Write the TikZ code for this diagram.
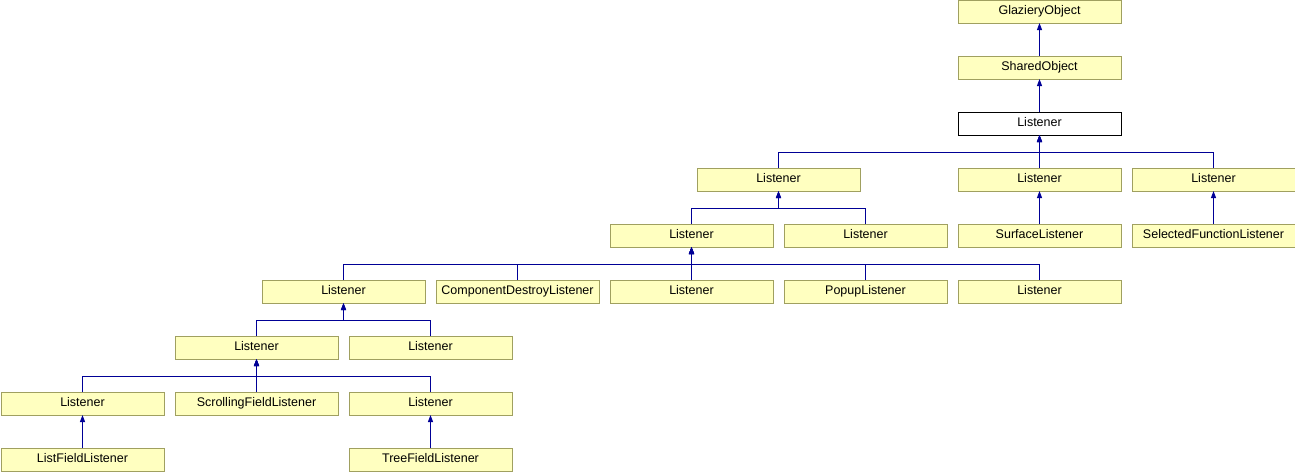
\documentclass[tikz,border=0pt]{standalone}
\usepackage{fontspec}
\setmainfont{Liberation Sans}
\usepackage{xcolor}
\usepackage{tikz}
\usetikzlibrary{arrows.meta, positioning}
\definecolor{boxfill}{RGB}{255,255,192}
\definecolor{boxline}{RGB}{160,160,96}
\definecolor{edgeblue}{RGB}{0,0,150}

\begin{document}
\begin{tikzpicture}[
    x=1pt, y=-1pt,
    node distance=33pt and 11pt,
    box/.style={rectangle, draw=boxline, fill=boxfill, line width=1pt, minimum width=163pt, minimum height=23pt, inner sep=0pt, outer sep=0pt, text height=9pt, text depth=2.5pt, align=center, font=\fontsize{12.5}{14}\selectfont},
    rootbox/.style={box, draw=black, fill=white},
    arrow/.style={-{Triangle[width=5pt,length=7pt]}, edgeblue, line width=1pt}
]
\useasboundingbox (0,0) rectangle (1295,472);

% Base classes
\node[box] (glaziery) at (1039.5,11.5) {GlazieryObject};
\node[box, below=of glaziery] (shared) {SharedObject};
\node[rootbox, below=of shared] (listener) {Listener};

% Row 3
\node[box, below=of listener] (lsurf) {Listener};
\node[box, right=of lsurf] (lsel) {Listener};
\node[box, left=98pt of lsurf] (lcomp) {Listener};

% Row 4
\node[box, below=of lsurf] (surface) {SurfaceListener};
\node[box, below=of lsel] (selected) {SelectedFunctionListener};
\node[box, left=of surface] (lother) {Listener};
\node[box, left=of lother] (lwidget) {Listener};

% Row 5
\node[box, below=of surface] (lmisc) {Listener};
\node[box, left=of lmisc] (popup) {PopupListener};
\node[box, left=of popup] (lcontrol) {Listener};
\node[box, left=of lcontrol] (destroy) {ComponentDestroyListener};
\node[box, left=of destroy] (lfield) {Listener};

% Row 6
\node[box, below=of lfield, xshift=87pt] (lbutton) {Listener};
\node[box, left=of lbutton] (lscroll) {Listener};

% Row 7
\node[box, below=of lscroll] (scrolling) {ScrollingFieldListener};
\node[box, below=of lbutton] (ltree) {Listener};
\node[box, left=of scrolling] (llist) {Listener};

% Row 8
\node[box, below=of llist] (listfield) {ListFieldListener};
\node[box, below=of ltree] (treefield) {TreeFieldListener};

% Inheritance
\draw[arrow] (shared) -- (glaziery);
\draw[arrow] (listener) -- (shared);
\draw[arrow] (lcomp.north) -- ++(0,-16) -| (listener.south);
\draw[arrow] (lsurf.north) -- ++(0,-16) -| (listener.south);
\draw[arrow] (lsel.north) -- ++(0,-16) -| (listener.south);

\draw[arrow] (lwidget.north) -- ++(0,-16) -| (lcomp.south);
\draw[arrow] (lother.north) -- ++(0,-16) -| (lcomp.south);
\draw[arrow] (surface) -- (lsurf);
\draw[arrow] (selected) -- (lsel);

\draw[arrow] (lfield.north) -- ++(0,-16) -| (lwidget.south);
\draw[arrow] (destroy.north) -- ++(0,-16) -| (lwidget.south);
\draw[arrow] (lcontrol.north) -- ++(0,-16) -| (lwidget.south);
\draw[arrow] (popup.north) -- ++(0,-16) -| (lwidget.south);
\draw[arrow] (lmisc.north) -- ++(0,-16) -| (lwidget.south);

\draw[arrow] (lscroll.north) -- ++(0,-16) -| (lfield.south);
\draw[arrow] (lbutton.north) -- ++(0,-16) -| (lfield.south);

\draw[arrow] (llist.north) -- ++(0,-16) -| (lscroll.south);
\draw[arrow] (scrolling.north) -- ++(0,-16) -| (lscroll.south);
\draw[arrow] (ltree.north) -- ++(0,-16) -| (lscroll.south);

\draw[arrow] (listfield) -- (llist);
\draw[arrow] (treefield) -- (ltree);

\end{tikzpicture}
\end{document}
